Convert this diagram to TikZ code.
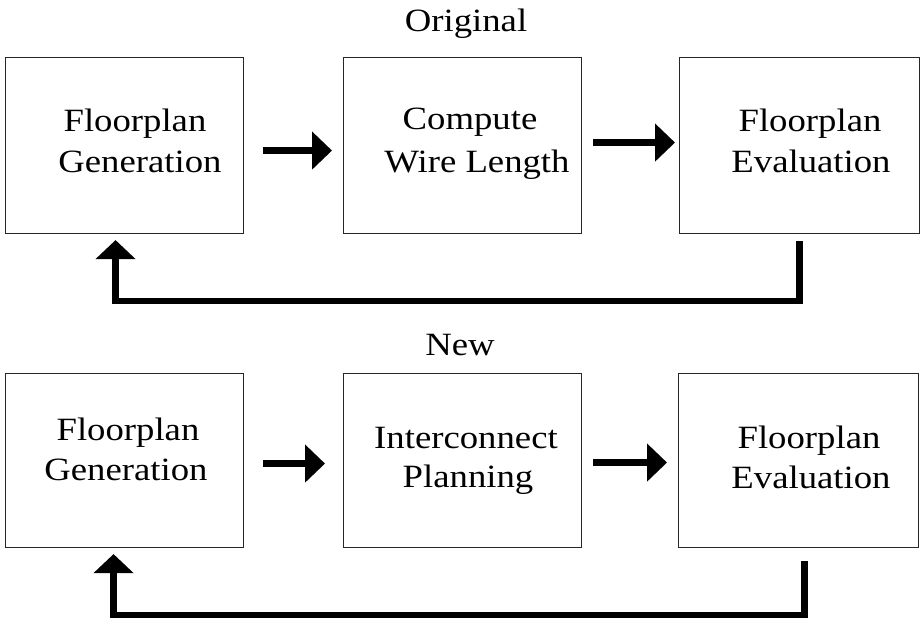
\documentclass[tikz,border=0pt]{standalone}
\usepackage{fontspec}
\setmainfont{Liberation Serif}[FakeStretch=1.13]
\usetikzlibrary{arrows.meta}
\begin{document}
\begin{tikzpicture}[x=1pt,y=-1pt,
  box/.style={draw=black!85,line width=1.1pt,inner sep=0pt,anchor=north west},
  txt/.style={inner sep=0pt,anchor=base,font=\fontsize{32.5}{40}\selectfont},
  flow/.style={line width=6.5pt,-{Triangle[length=20pt,width=37pt]}},
  back/.style={line width=6.5pt,-{Triangle[length=19pt,width=39pt]}}]
\useasboundingbox (0,0) rectangle (922,623);
% titles
\node[txt] (tOrig) at (466,32) {Original};
\node[txt] (tNew) at (460,355) {New};
% top row boxes
\node[box,minimum width=238pt,minimum height=176pt] (a1) at (5,57) {};
\node[box,minimum width=238pt,minimum height=176pt] (a2) at (343,57) {};
\node[box,minimum width=240pt,minimum height=176pt] (a3) at (679,57) {};
% bottom row boxes
\node[box,minimum width=238pt,minimum height=174pt] (b1) at (5,373) {};
\node[box,minimum width=238pt,minimum height=174pt] (b2) at (343,373) {};
\node[box,minimum width=240pt,minimum height=174pt] (b3) at (678,373) {};
% texts
\node[txt] (a1l1) at (135,132) {Floorplan};
\node[txt] (a1l2) at (140,173) {Generation};
\node[txt] (a2l1) at (470,130) {Compute};
\node[txt] (a2l2) at (477,173) {Wire Length};
\node[txt] (a3l1) at (810,132) {Floorplan};
\node[txt] (a3l2) at (811,173) {Evaluation};
\node[txt] (b1l1) at (128,440) {Floorplan};
\node[txt] (b1l2) at (126,480) {Generation};
\node[txt] (b2l1) at (466,448) {Interconnect};
\node[txt] (b2l2) at (468,487) {Planning};
\node[txt] (b3l1) at (809,448) {Floorplan};
\node[txt] (b3l2) at (811,488) {Evaluation};
% forward arrows
\draw[flow] ([xshift=19pt,yshift=-5pt]a1.east) -- ([xshift=-11pt,yshift=-5pt]a2.west);
\draw[flow] ([xshift=11pt,yshift=3pt]a2.east) -- ([xshift=-4pt,yshift=3pt]a3.west);
\draw[flow] ([xshift=19pt,yshift=-3pt]b1.east) -- ([xshift=-18pt,yshift=-3pt]b2.west);
\draw[flow] ([xshift=11pt,yshift=-2pt]b2.east) -- ([xshift=-11pt,yshift=-2pt]b3.west);
% feedback arrows
\coordinate (fa) at ([yshift=-67pt]a3.south);
\draw[back] ([yshift=-7pt]a3.south) -- (fa) -| ([xshift=-9pt,yshift=-6pt]a1.south);
\coordinate (fb) at ([xshift=6pt,yshift=-67pt]b3.south);
\draw[back] ([xshift=6pt,yshift=-13pt]b3.south) -- (fb) -| ([xshift=-11pt,yshift=-6pt]b1.south);
\end{tikzpicture}
\end{document}
